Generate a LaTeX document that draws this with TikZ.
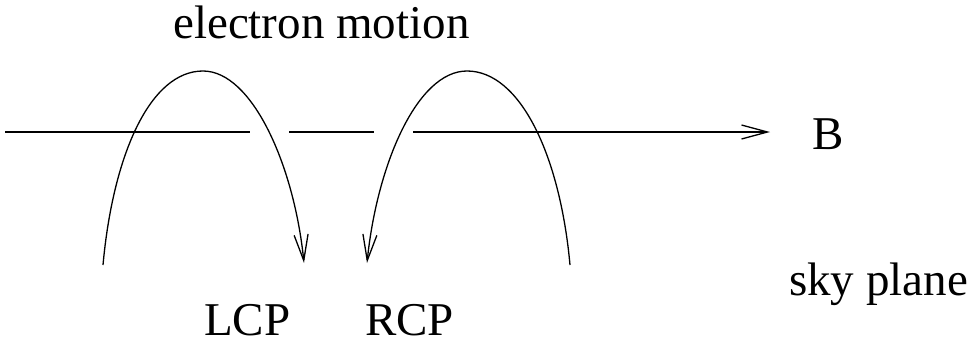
\documentclass[tikz,border=0pt]{standalone}
\usepackage{fontspec}
\setmainfont{Liberation Serif}
\usetikzlibrary{arrows.meta}
\begin{document}
\begin{tikzpicture}[x=1pt,y=-1pt,
  lbl/.style={anchor=base west,inner sep=0pt,font=\fontsize{47}{56}\selectfont},
  wire/.style={line width=1.3pt},
  tip/.style={-{Straight Barb[length=26pt,width=14pt,line width=1.3pt]}}]
\useasboundingbox (0,0) rectangle (975,343);
% labels
\node[lbl] (em) at (173,38) {electron motion};
\node[lbl] (b) at (812,149) {B};
\node[lbl] (sky) at (789,295) {sky plane};
\node[lbl] (lcp) at (204,335) {LCP};
\node[lbl] (rcp) at (365,335) {RCP};
% field line segments
\coordinate (f0) at (5,132);
\coordinate (f1) at (250,132);
\coordinate (f2) at (289,132);
\coordinate (f3) at (374,132);
\coordinate (f4) at (413,132);
\coordinate (f5) at (770,132);
\draw[wire] (f0) -- (f1);
\draw[wire] (f2) -- (f3);
\draw[wire,tip] (f4) -- (f5);
% LCP curve
\coordinate (l0) at (103,265);
\coordinate (lt) at (203,71);
\coordinate (l1) at (304,263);
\draw[wire,tip] (l0) .. controls (113,155) and (150,71) .. (lt)
  .. controls (252,71) and (294,165) .. (l1);
% RCP curve
\coordinate (r0) at (570,265);
\coordinate (rt) at (467,71);
\coordinate (r1) at (367,263);
\draw[wire,tip] (r0) .. controls (560,155) and (520,71) .. (rt)
  .. controls (417,71) and (377,165) .. (r1);
\end{tikzpicture}
\end{document}
